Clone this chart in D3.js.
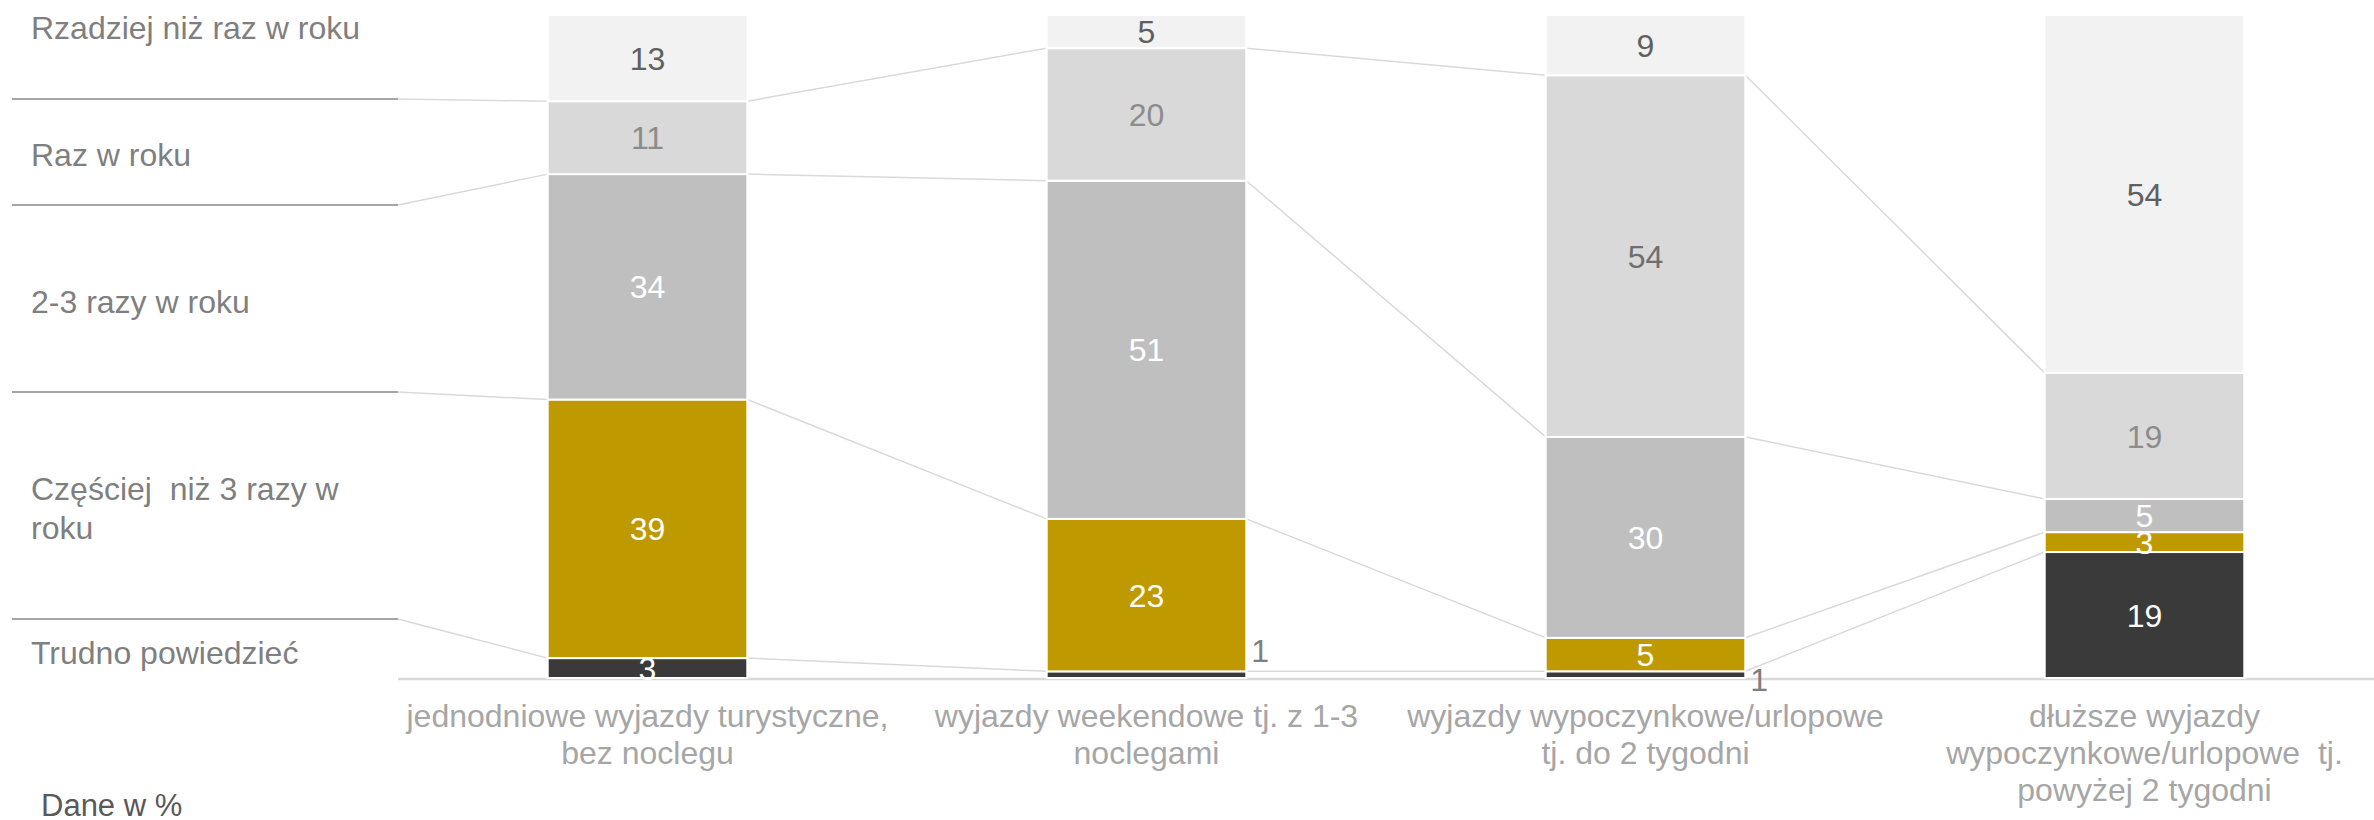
<!DOCTYPE html>
<html>
<head>
<meta charset="UTF-8">
<script src="https://cdn.jsdelivr.net/npm/d3@7"></script>
<style>
  body { margin: 0; background: #fff; }
  svg { display: block; font-family: "Liberation Sans", Arial, sans-serif; }
  text { white-space: pre; }
</style>
</head>
<body>
<script>
// categories (x axis), each label split into lines
var categories = ["jednodniowe", "weekendowe", "do2tyg", "powyzej2tyg"];
var categoryLines = [
  ["jednodniowe wyjazdy turystyczne,", "bez noclegu"],
  ["wyjazdy weekendowe tj. z 1-3", "noclegami"],
  ["wyjazdy wypoczynkowe/urlopowe", "tj. do 2 tygodni"],
  ["dłuższe wyjazdy", "wypoczynkowe/urlopowe  tj.", "powyżej 2 tygodni"]
];

// series, bottom to top
var seriesKeys = ["trudno", "czesciej", "dwaTrzy", "raz", "rzadziej"];
var seriesLabels = [
  ["Trudno powiedzieć"],
  ["Częściej  niż 3 razy w", "roku"],
  ["2-3 razy w roku"],
  ["Raz w roku"],
  ["Rzadziej niż raz w roku"]
];
var trudno   = [3, 1, 1, 19];
var czesciej = [39, 23, 5, 3];
var dwaTrzy  = [34, 51, 30, 5];
var raz      = [11, 20, 54, 19];
var rzadziej = [13, 5, 9, 54];

var colors = ["#3a3a3a", "#bf9900", "#bfbfbf", "#d9d9d9", "#f2f2f2"];
var labelColors = ["#ffffff", "#ffffff", "#ffffff", "#8c8c8c", "#606060"];

var W = 2374, H = 820;
var plotLeft = 398, plotRight = 2394;
var baseY = 678, topY = 15;
var fontSize = 32;

var table = categories.map(function(c, i) {
  return { cat: c, trudno: trudno[i], czesciej: czesciej[i], dwaTrzy: dwaTrzy[i], raz: raz[i], rzadziej: rzadziej[i] };
});

var stack = d3.stack().keys(seriesKeys).offset(d3.stackOffsetExpand)(table);

var x = d3.scaleBand().domain(categories).range([plotLeft, plotRight])
  .paddingInner(0.6).paddingOuter(0.3);
var y = d3.scaleLinear().domain([0, 1]).range([baseY, topY]);
var bw = x.bandwidth();

var svg = d3.select("body").append("svg")
  .attr("width", W).attr("height", H);

// baseline
svg.append("line")
  .attr("x1", plotLeft).attr("x2", W)
  .attr("y1", baseY + 1).attr("y2", baseY + 1)
  .attr("stroke", "#d9d9d9").attr("stroke-width", 2.5);

// series lines between bars (not for top series)
var links = svg.append("g").attr("stroke", "#d9d9d9").attr("stroke-width", 1.5);
for (var s = 0; s < seriesKeys.length - 1; s++) {
  for (var i = 0; i < categories.length - 1; i++) {
    links.append("line")
      .attr("x1", x(categories[i]) + bw).attr("y1", y(stack[s][i][1]))
      .attr("x2", x(categories[i + 1])).attr("y2", y(stack[s][i + 1][1]));
  }
}

// legend separators on the left, then a light diagonal into bar 1
var legendLineY = [99, 205, 392, 619];
legendLineY.forEach(function(ly, k) {
  var s = 3 - k;
  svg.append("line")
    .attr("x1", 12).attr("x2", plotLeft)
    .attr("y1", ly).attr("y2", ly)
    .attr("stroke", "#a6a6a6").attr("stroke-width", 2);
  svg.append("line")
    .attr("x1", plotLeft).attr("y1", ly)
    .attr("x2", x(categories[0])).attr("y2", y(stack[s][0][1]))
    .attr("stroke", "#d9d9d9").attr("stroke-width", 1.5);
});

// bars
var layers = svg.selectAll(".layer")
  .data(stack)
  .enter().append("g")
  .attr("class", "layer")
  .attr("fill", function(d, i) { return colors[i]; });

layers.selectAll("rect")
  .data(function(d) { return d; })
  .enter().append("rect")
  .attr("x", function(d) { return x(d.data.cat); })
  .attr("y", function(d) { return y(d[1]); })
  .attr("width", bw)
  .attr("height", function(d) { return y(d[0]) - y(d[1]); })
  .attr("stroke", "#fff")
  .attr("stroke-width", 2);

// value labels
stack.forEach(function(layer, si) {
  layer.forEach(function(d, ci) {
    var v = d.data[seriesKeys[si]];
    var cx = x(d.data.cat) + bw / 2;
    var cy = (y(d[0]) + y(d[1])) / 2;
    var col = labelColors[si];
    var anchor = "middle";
    if (v === 1) {
      // tiny segments get their label outside, to the right
      cx = x(d.data.cat) + bw + 5;
      cy = ci === 1 ? cy - 24 : cy + 5;
      col = "#7f7f7f";
      anchor = "start";
    }
    if (si === 3 && ci === 2) col = "#6f6f6f";
    svg.append("text")
      .attr("x", cx).attr("y", cy)
      .attr("dy", "0.36em")
      .attr("text-anchor", anchor)
      .attr("font-size", fontSize)
      .attr("fill", col)
      .text(v);
  });
});

// category labels
categories.forEach(function(c, i) {
  var t = svg.append("text")
    .attr("text-anchor", "middle")
    .attr("font-size", fontSize)
    .attr("fill", "#a6a6a6");
  categoryLines[i].forEach(function(line, j) {
    t.append("tspan")
      .attr("x", x(c) + bw / 2)
      .attr("y", 727 + j * 37)
      .text(line);
  });
});

// legend labels on the left
var legendBaseY = [664, 500, 313, 166, 39];
seriesLabels.forEach(function(lines, si) {
  var t = svg.append("text")
    .attr("font-size", fontSize)
    .attr("fill", "#7f7f7f");
  lines.forEach(function(line, j) {
    t.append("tspan")
      .attr("x", 31)
      .attr("y", legendBaseY[si] + j * 39)
      .text(line);
  });
});

svg.append("text")
  .attr("x", 41).attr("y", 816)
  .attr("font-size", 31)
  .attr("fill", "#595959")
  .text("Dane w %");
</script>
</body>
</html>
